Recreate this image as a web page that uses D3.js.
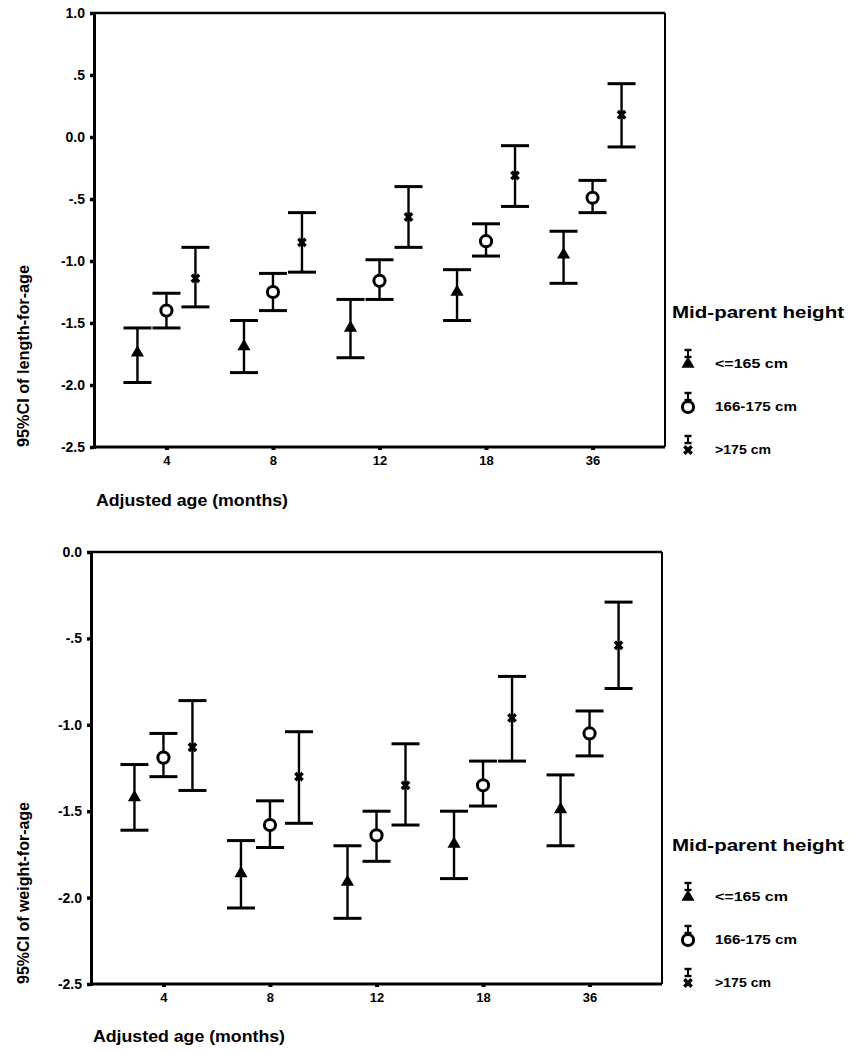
<!DOCTYPE html>
<html><head><meta charset="utf-8">
<script src="https://cdn.jsdelivr.net/npm/d3@7"></script>
<style>
body{margin:0;background:#fff;}
svg{display:block;font-family:"Liberation Sans",Arial,sans-serif;}
</style></head>
<body><svg id="c" width="856" height="1052"></svg>
<script>
// ---- data ----
const ages = ["4","8","12","18","36"];
const groups = ["<=165 cm","166-175 cm",">175 cm"];
const yTickValues = [1.0,0.5,0,-0.5,-1.0,-1.5,-2.0,-2.5];
const yTickLabels = ["1.0",".5","0.0","-.5","-1.0","-1.5","-2.0","-2.5"];
const yTickValues2 = [0,-0.5,-1.0,-1.5,-2.0,-2.5];
const yTickLabels2 = ["0.0","-.5","-1.0","-1.5","-2.0","-2.5"];

// length-for-age
const lenMeanLow = [-1.74,-1.69,-1.54,-1.25,-0.95];
const lenLoLow   = [-1.98,-1.90,-1.78,-1.48,-1.18];
const lenHiLow   = [-1.54,-1.48,-1.31,-1.07,-0.76];
const lenMeanMid = [-1.40,-1.25,-1.16,-0.84,-0.49];
const lenLoMid   = [-1.54,-1.40,-1.31,-0.96,-0.61];
const lenHiMid   = [-1.26,-1.10,-0.99,-0.70,-0.35];
const lenMeanHigh= [-1.14,-0.85,-0.645,-0.31,0.18];
const lenLoHigh  = [-1.37,-1.09,-0.89,-0.56,-0.08];
const lenHiHigh  = [-0.89,-0.61,-0.40,-0.07,0.43];

// weight-for-age
const wtMeanLow = [-1.42,-1.86,-1.91,-1.69,-1.49];
const wtLoLow   = [-1.61,-2.06,-2.12,-1.89,-1.70];
const wtHiLow   = [-1.23,-1.67,-1.70,-1.50,-1.29];
const wtMeanMid = [-1.19,-1.58,-1.64,-1.35,-1.05];
const wtLoMid   = [-1.30,-1.71,-1.79,-1.47,-1.18];
const wtHiMid   = [-1.05,-1.44,-1.50,-1.21,-0.92];
const wtMeanHigh= [-1.13,-1.30,-1.35,-0.96,-0.54];
const wtLoHigh  = [-1.38,-1.57,-1.58,-1.21,-0.79];
const wtHiHigh  = [-0.86,-1.04,-1.11,-0.72,-0.29];

function rows(means, los, his){
  const out=[];
  ages.forEach((a,i)=>groups.forEach((g,j)=>out.push({age:a,group:g,mean:means[j][i],lo:los[j][i],hi:his[j][i]})));
  return out;
}
const lenData = rows([lenMeanLow,lenMeanMid,lenMeanHigh],[lenLoLow,lenLoMid,lenLoHigh],[lenHiLow,lenHiMid,lenHiHigh]);
const wtData = rows([wtMeanLow,wtMeanMid,wtMeanHigh],[wtLoLow,wtLoMid,wtLoHigh],[wtHiLow,wtHiMid,wtHiHigh]);

const svg = d3.select("#c");

const triPath = d3.symbol().type(d3.symbolTriangle).size(75)();
const xPath = d3.symbol().type(d3.symbolCross).size(60)();

function drawMarker(g, group, x, y){
  if(group===groups[0]){
    g.append("path").attr("d",triPath).attr("transform",`translate(${x},${y})`).attr("fill","#000");
  } else if(group===groups[1]){
    g.append("circle").attr("cx",x).attr("cy",y).attr("r",5.6).attr("fill","#fff").attr("stroke","#000").attr("stroke-width",3);
  } else {
    g.append("path").attr("d",xPath).attr("transform",`translate(${x},${y}) rotate(45)`).attr("fill","#000");
  }
}

function panel(opt){
  const {left,right,top,bottom,domain,tickVals,tickLabs,data,yTitle,legendTop,xTitleY} = opt;
  const g = svg.append("g");
  const x = d3.scalePoint().domain(ages).range([left,right]).padding(0.68);
  const off = d3.scalePoint().domain(groups).range([-29,29]);
  const y = d3.scaleLinear().domain(domain).range([bottom,top]);

  // frame top/right
  g.append("line").attr("x1",left).attr("x2",right).attr("y1",top).attr("y2",top).attr("stroke","#000").attr("stroke-width",2.5);
  g.append("line").attr("x1",right).attr("x2",right).attr("y1",top).attr("y2",bottom).attr("stroke","#000").attr("stroke-width",2);

  // y axis
  const ya = g.append("g").attr("transform",`translate(${left},0)`)
    .call(d3.axisLeft(y).tickValues(tickVals).tickFormat((d,i)=>tickLabs[i]).tickSize(4).tickPadding(5));
  ya.select(".domain").attr("stroke","#000").attr("stroke-width",3);
  ya.selectAll(".tick line").attr("stroke","#000").attr("stroke-width",3.5);
  ya.selectAll(".tick text").attr("font-size",14).attr("font-weight","bold").attr("fill","#000").attr("font-family","Liberation Sans, Arial, sans-serif");

  // x axis
  const xa = g.append("g").attr("transform",`translate(0,${bottom})`)
    .call(d3.axisBottom(x).tickSize(3).tickPadding(6));
  xa.select(".domain").attr("stroke","#000").attr("stroke-width",3).attr("d",`M${left},0H${right}`);
  xa.selectAll(".tick line").attr("stroke","#000").attr("stroke-width",4);
  xa.selectAll(".tick text").attr("font-size",13).attr("font-weight","bold").attr("fill","#000").attr("font-family","Liberation Sans, Arial, sans-serif");

  // error bars
  const cap = 14;
  data.forEach(d=>{
    const cx = x(d.age)+off(d.group);
    g.append("line").attr("x1",cx).attr("x2",cx).attr("y1",y(d.hi)).attr("y2",y(d.lo)).attr("stroke","#000").attr("stroke-width",2.4);
    [d.hi,d.lo].forEach(v=>g.append("line").attr("x1",cx-cap).attr("x2",cx+cap).attr("y1",y(v)).attr("y2",y(v)).attr("stroke","#000").attr("stroke-width",3));
    drawMarker(g,d.group,cx,y(d.mean));
  });

  // y title
  g.append("text").attr("transform",`translate(29,${bottom}) rotate(-90)`)
    .attr("text-anchor","start").attr("font-size",17).attr("font-weight","bold").attr("fill","#000")
    .attr("textLength",182).attr("lengthAdjust","spacingAndGlyphs")
    .text(yTitle);
  // x title
  g.append("text").attr("x",left+2).attr("y",xTitleY).attr("font-size",17).attr("font-weight","bold").attr("fill","#000")
    .attr("textLength",192).attr("lengthAdjust","spacingAndGlyphs").text("Adjusted age (months)");

  // legend
  const lg = g.append("g");
  lg.append("text").attr("x",672).attr("y",legendTop).attr("font-size",17).attr("font-weight","bold").attr("fill","#000")
    .attr("textLength",172).attr("lengthAdjust","spacingAndGlyphs").text("Mid-parent height");
  groups.forEach((gr,i)=>{
    const cy = legendTop + 46 + i*43;
    const sx = 688;
    // I-beam icon
    lg.append("line").attr("x1",sx).attr("x2",sx).attr("y1",cy-14).attr("y2",cy-7).attr("stroke","#000").attr("stroke-width",2);
    [cy-14,cy-7].forEach(v=>lg.append("line").attr("x1",sx-3.5).attr("x2",sx+3.5).attr("y1",v).attr("y2",v).attr("stroke","#000").attr("stroke-width",2.4));
    drawMarker(lg,gr,sx,cy);
    lg.append("text").attr("x",715).attr("y",cy+4).attr("font-size",13).attr("font-weight","bold").attr("fill","#000")
      .attr("textLength",i===1?82:(i===0?73:56)).attr("lengthAdjust","spacingAndGlyphs").text(gr);
  });
}

panel({left:94,right:665,top:13,bottom:447,domain:[-2.5,1.0],tickVals:yTickValues,tickLabs:yTickLabels,
  data:lenData,yTitle:"95%CI of length-for-age",legendTop:318,xTitleY:506});
panel({left:91,right:662,top:552,bottom:984,domain:[-2.5,0],tickVals:yTickValues2,tickLabs:yTickLabels2,
  data:wtData,yTitle:"95%CI of weight-for-age",legendTop:851,xTitleY:1042});
</script></body></html>
